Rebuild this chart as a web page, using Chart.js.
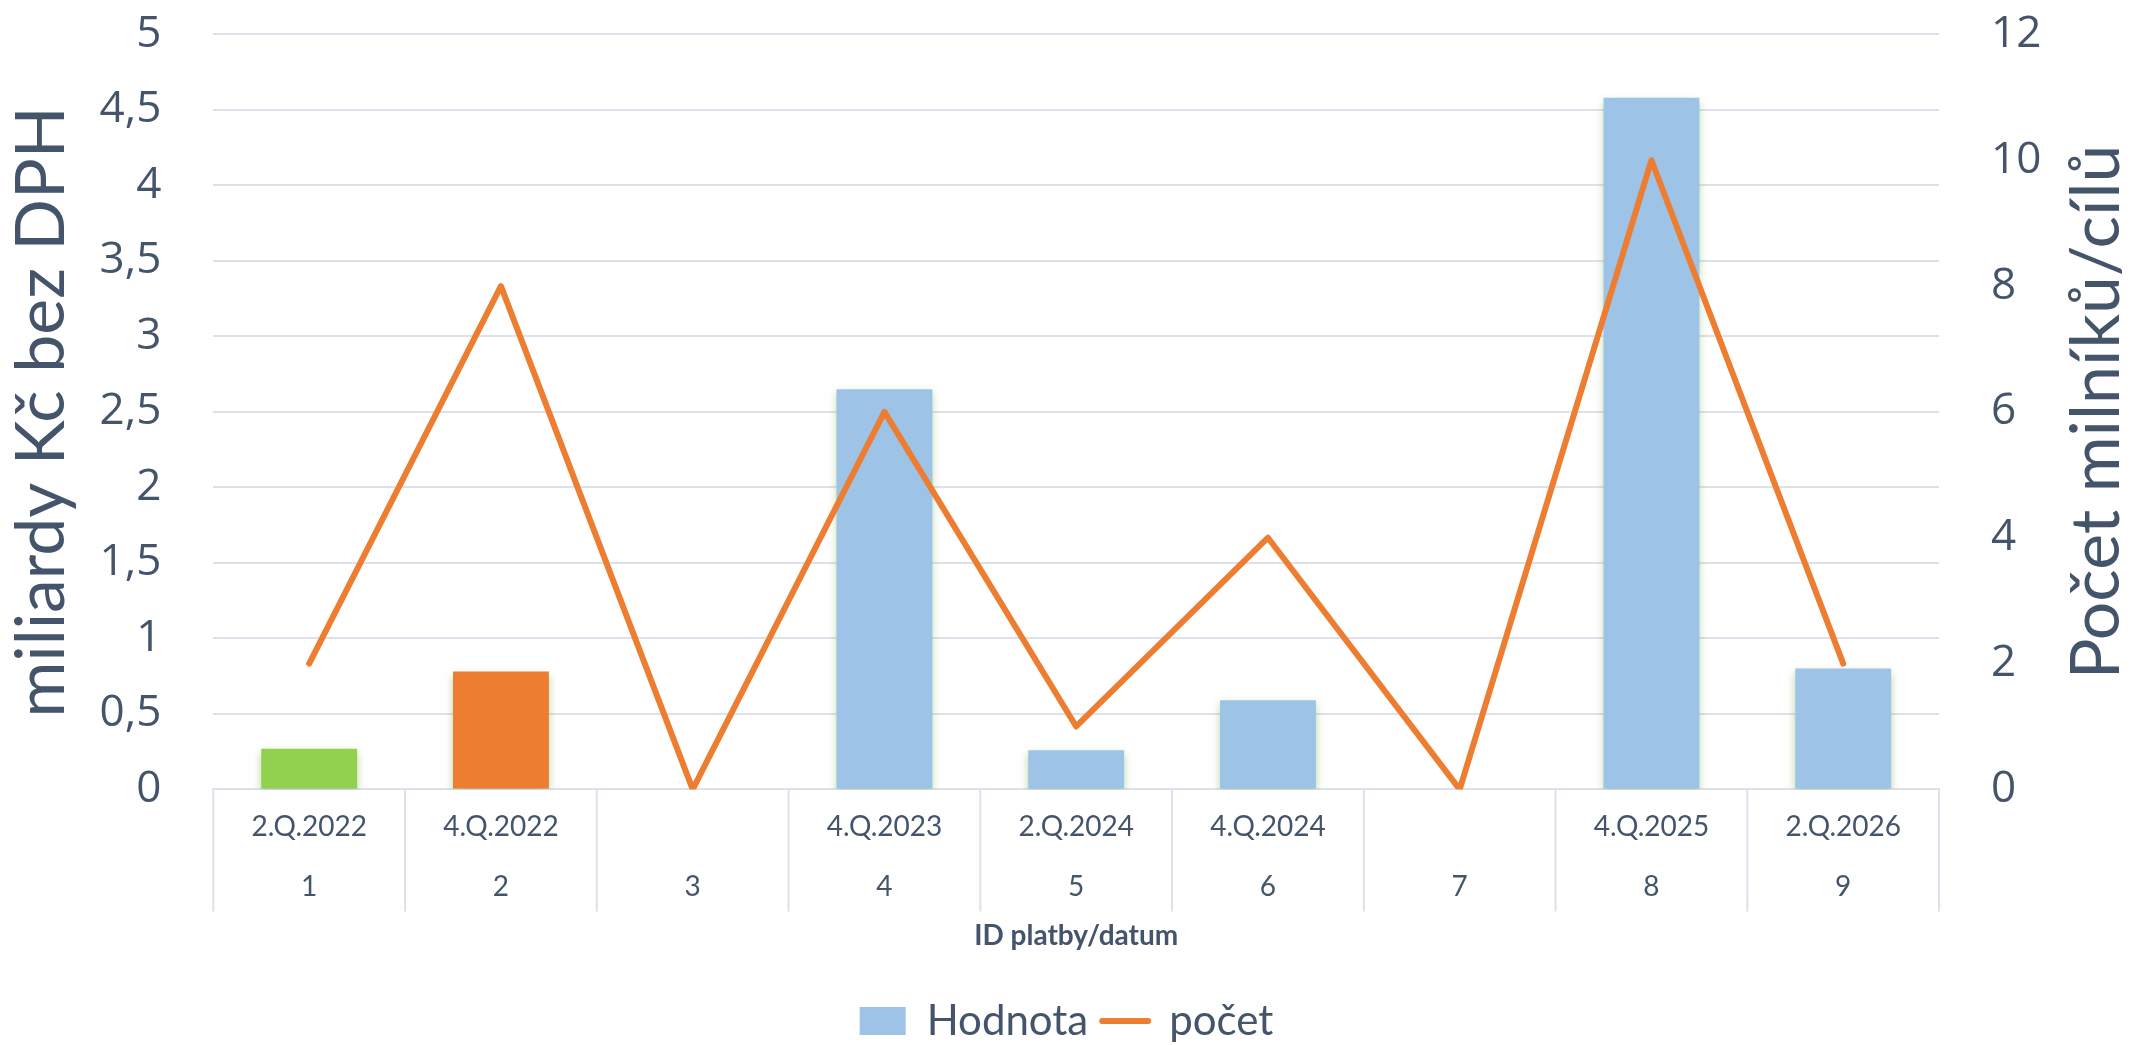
<!DOCTYPE html>
<html>
<head>
<meta charset="utf-8">
<script src="https://cdn.jsdelivr.net/npm/chart.js@4/dist/chart.umd.min.js"></script>
<style>
  html, body { margin: 0; padding: 0; background: #ffffff; }
  #wrap { width: 2133px; height: 1045px; }
</style>
</head>
<body>
<div id="wrap"><canvas id="c" width="2133" height="1045"></canvas></div>
<script>
// ---- data ----
const dates = ['2.Q.2022', '4.Q.2022', '', '4.Q.2023', '2.Q.2024', '4.Q.2024', '', '4.Q.2025', '2.Q.2026'];
const ids = ['1', '2', '3', '4', '5', '6', '7', '8', '9'];
const hodnota = [0.27, 0.78, 0, 2.65, 0.26, 0.59, 0, 4.58, 0.80];
const pocet = [2, 8, 0, 6, 1, 4, 0, 10, 2];
const barColors = ['#92D050', '#ED7D31', '#9DC3E6', '#9DC3E6', '#9DC3E6', '#9DC3E6', '#9DC3E6', '#9DC3E6', '#9DC3E6'];
const seriesNames = ['Hodnota', 'počet'];
const leftTitle = 'miliardy Kč bez DPH';
const rightTitle = 'Počet milníků/cílů';
const xTitle = 'ID platby/datum';

const TEXT = '#44546A';
const GRID = '#DDE2EA';
const BLUE = '#9DC3E6';
const ORANGE = '#ED7D31';

const labels = dates.map((d, i) => [d, ids[i]]);

const glowPlugin = {
  id: 'glow',
  beforeDatasetDraw(chart, args) {
    if (args.meta.type === 'bar') {
      const c = chart.ctx;
      c.save();
      c.shadowColor = 'rgba(112,173,71,0.5)';
      c.shadowBlur = 8;
      c.shadowOffsetY = 4;
    }
  },
  afterDatasetDraw(chart, args) {
    if (args.meta.type === 'bar') chart.ctx.restore();
  }
};

// vertical separators of the category table below the x axis, at category boundaries
const separatorPlugin = {
  id: 'separators',
  afterDraw(chart) {
    const s = chart.scales.x;
    const c = chart.ctx;
    const n = s.ticks.length;
    const xs = [s.left];
    for (let i = 1; i < n; i++) xs.push((s.getPixelForTick(i - 1) + s.getPixelForTick(i)) / 2);
    xs.push(s.right);
    c.save();
    c.strokeStyle = GRID;
    c.lineWidth = 2;
    c.beginPath();
    xs.forEach(x => { c.moveTo(x, s.top); c.lineTo(x, s.top + 122); });
    c.stroke();
    c.restore();
  }
};

const rightTitlePlugin = {
  id: 'rightTitle',
  afterDraw(chart) {
    const s = chart.scales.y1;
    const c = chart.ctx;
    c.save();
    c.font = '68px Lato';
    c.fillStyle = TEXT;
    c.textAlign = 'center';
    c.textBaseline = 'alphabetic';
    c.translate(s.right - 14, (s.top + s.bottom) / 2);
    c.rotate(-Math.PI / 2);
    c.fillText(rightTitle, 0, 0);
    c.restore();
  }
};

new Chart(document.getElementById('c'), {
  data: {
    labels: labels,
    datasets: [
      {
        type: 'bar',
        label: seriesNames[0],
        data: hodnota,
        backgroundColor: barColors,
        borderWidth: 0,
        yAxisID: 'y',
        order: 1,
        barPercentage: 0.5,
        categoryPercentage: 1.0
      },
      {
        type: 'line',
        label: seriesNames[1],
        data: pocet,
        borderColor: ORANGE,
        backgroundColor: ORANGE,
        borderWidth: 6,
        borderCapStyle: 'round',
        borderJoinStyle: 'round',
        pointRadius: 0,
        pointHoverRadius: 0,
        tension: 0,
        yAxisID: 'y1',
        order: 0
      }
    ]
  },
  options: {
    responsive: false,
    animation: false,
    events: [],
    layout: { padding: { top: 31, left: 0, right: 0, bottom: -7 } },
    plugins: {
      tooltip: { enabled: false },
      legend: {
        position: 'bottom',
        labels: {
          color: TEXT,
          font: { family: 'Lato', size: 42 },
          usePointStyle: true,
          pointStyleWidth: 46,
          boxHeight: 28,
          padding: 14,
          sort: (a, b) => a.datasetIndex - b.datasetIndex,
          generateLabels(chart) {
            const items = Chart.defaults.plugins.legend.labels.generateLabels(chart);
            items.forEach(it => {
              if (it.datasetIndex === 0) {
                it.fillStyle = BLUE;
                it.strokeStyle = BLUE;
                it.lineWidth = 0;
                it.pointStyle = 'rect';
              } else {
                it.pointStyle = 'line';
                it.strokeStyle = ORANGE;
                it.lineWidth = 6;
                it.lineCap = 'round';
              }
            });
            return items;
          }
        }
      }
    },
    scales: {
      x: {
        type: 'category',
        offset: true,
        grid: { display: false },
        border: { display: true, color: GRID, width: 2 },
        ticks: {
          color: TEXT,
          font: { family: 'Lato', size: 28, lineHeight: 60 / 28 },
          padding: 0,
          autoSkip: false,
          maxRotation: 0,
          minRotation: 0
        },
        title: {
          display: true,
          text: xTitle,
          color: TEXT,
          font: { family: 'Lato', size: 28, weight: 'bold' },
          padding: { top: 2, bottom: 33 }
        }
      },
      y: {
        position: 'left',
        min: 0,
        max: 5,
        grid: { color: GRID, lineWidth: 2, drawTicks: true, tickLength: 44, tickColor: 'rgba(0,0,0,0)' },
        border: { display: false },
        ticks: {
          stepSize: 0.5,
          color: TEXT,
          font: { family: 'Open Sans', size: 44 },
          padding: 8,
          callback: v => String(v).replace('.', ',')
        },
        title: {
          display: true,
          text: leftTitle,
          color: TEXT,
          font: { family: 'Lato', size: 68 },
          padding: { top: 1, bottom: 9 }
        }
      },
      y1: {
        position: 'right',
        min: 0,
        max: 12,
        grid: { drawOnChartArea: false, drawTicks: true, tickLength: 44, tickColor: 'rgba(0,0,0,0)' },
        border: { display: false },
        ticks: {
          stepSize: 2,
          color: TEXT,
          font: { family: 'Open Sans', size: 44 },
          padding: 8
        },
        title: {
          display: true,
          text: rightTitle,
          color: 'rgba(0,0,0,0)',
          font: { family: 'Lato', size: 68 },
          padding: { top: 0, bottom: 2 }
        }
      }
    }
  },
  plugins: [glowPlugin, separatorPlugin, rightTitlePlugin]
});
</script>
</body>
</html>
